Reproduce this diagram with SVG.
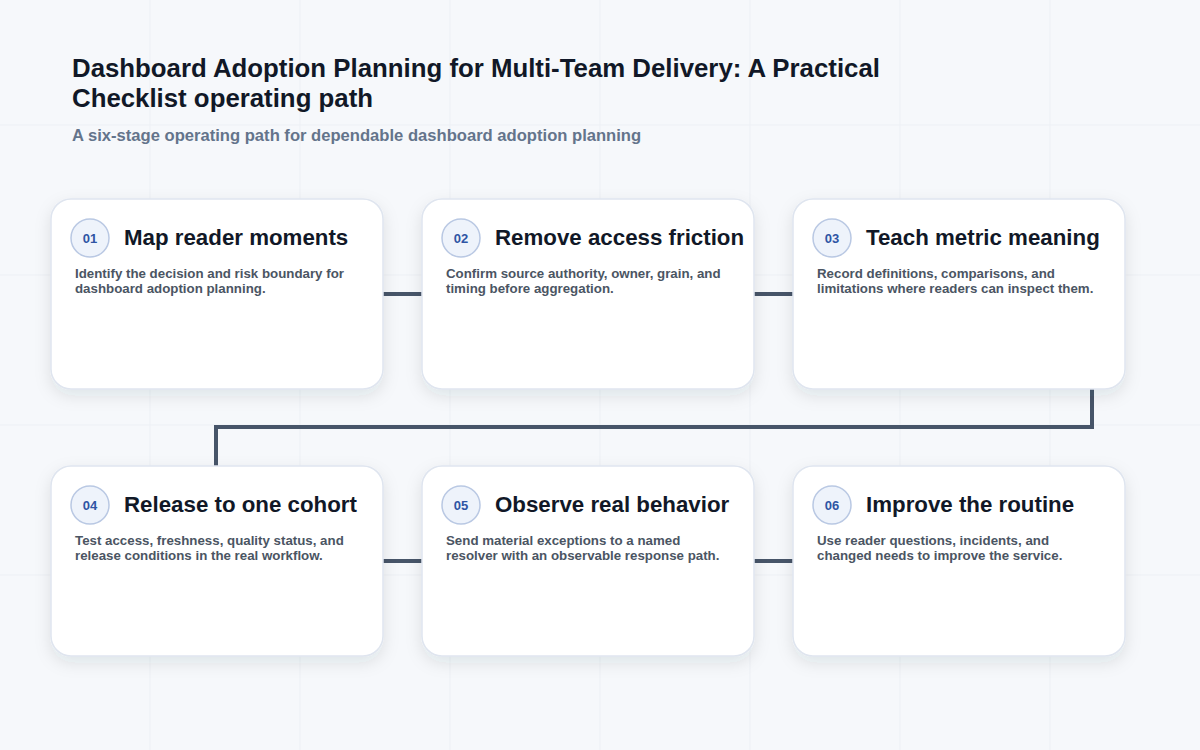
<svg xmlns="http://www.w3.org/2000/svg" width="1200" height="750" viewBox="0 0 1200 750">
<style>
.t{font-family:"Liberation Sans",Arial,sans-serif;font-weight:bold}
.card{fill:#fff;stroke:#dfe5ef;stroke-width:1.5}
.num{fill:#eef3fb;stroke:#b9c8e3;stroke-width:1.5}
.nt{font-size:13px;fill:#2f55a4;text-anchor:middle}
.h{font-size:22.3px;fill:#111827}
.d{font-size:13.3px;fill:#4b5563}
.c{fill:none;stroke:#475569;stroke-width:4}
.g{stroke:#edf0f5;stroke-width:1}
</style>
<defs>
<filter id="sh" x="-20%" y="-20%" width="140%" height="150%"><feDropShadow dx="0" dy="6" stdDeviation="8" flood-color="#1e293b" flood-opacity="0.10"/></filter>
</defs>
<rect width="1200" height="750" fill="#f6f8fb"/>
<g class="g">
<line x1="150" y1="0" x2="150" y2="750"/><line x1="300" y1="0" x2="300" y2="750"/><line x1="450" y1="0" x2="450" y2="750"/><line x1="600" y1="0" x2="600" y2="750"/><line x1="750" y1="0" x2="750" y2="750"/><line x1="900" y1="0" x2="900" y2="750"/><line x1="1050" y1="0" x2="1050" y2="750"/>
<line x1="0" y1="125" x2="1200" y2="125"/><line x1="0" y1="275" x2="1200" y2="275"/><line x1="0" y1="425" x2="1200" y2="425"/><line x1="0" y1="575" x2="1200" y2="575"/>
</g>
<text class="t" x="72" y="77" font-size="25.8" fill="#111827">Dashboard Adoption Planning for Multi-Team Delivery: A Practical</text>
<text class="t" x="72" y="107" font-size="25.8" fill="#111827">Checklist operating path</text>
<text class="t" x="72" y="141" font-size="16.6" fill="#64748b">A six-stage operating path for dependable dashboard adoption planning</text>
<g id="connectors">
<line class="c" x1="383" y1="294" x2="422" y2="294"/>
<line class="c" x1="754" y1="294" x2="793" y2="294"/>
<path class="c" d="M1092 389 V427 H216 V466"/>
<line class="c" x1="383" y1="561" x2="422" y2="561"/>
<line class="c" x1="754" y1="561" x2="793" y2="561"/>
</g>
<g id="n1" transform="translate(51,199)"><rect class="card" width="332" height="190" rx="20" filter="url(#sh)"/><circle class="num" cx="39" cy="39" r="19"/><text class="t nt" x="39" y="44">01</text><text class="t h" x="73" y="46">Map reader moments</text><text class="t d" x="24" y="79">Identify the decision and risk boundary for</text><text class="t d" x="24" y="94">dashboard adoption planning.</text></g>
<g id="n2" transform="translate(422,199)"><rect class="card" width="332" height="190" rx="20" filter="url(#sh)"/><circle class="num" cx="39" cy="39" r="19"/><text class="t nt" x="39" y="44">02</text><text class="t h" x="73" y="46">Remove access friction</text><text class="t d" x="24" y="79">Confirm source authority, owner, grain, and</text><text class="t d" x="24" y="94">timing before aggregation.</text></g>
<g id="n3" transform="translate(793,199)"><rect class="card" width="332" height="190" rx="20" filter="url(#sh)"/><circle class="num" cx="39" cy="39" r="19"/><text class="t nt" x="39" y="44">03</text><text class="t h" x="73" y="46">Teach metric meaning</text><text class="t d" x="24" y="79">Record definitions, comparisons, and</text><text class="t d" x="24" y="94">limitations where readers can inspect them.</text></g>
<g id="n4" transform="translate(51,466)"><rect class="card" width="332" height="190" rx="20" filter="url(#sh)"/><circle class="num" cx="39" cy="39" r="19"/><text class="t nt" x="39" y="44">04</text><text class="t h" x="73" y="46">Release to one cohort</text><text class="t d" x="24" y="79">Test access, freshness, quality status, and</text><text class="t d" x="24" y="94">release conditions in the real workflow.</text></g>
<g id="n5" transform="translate(422,466)"><rect class="card" width="332" height="190" rx="20" filter="url(#sh)"/><circle class="num" cx="39" cy="39" r="19"/><text class="t nt" x="39" y="44">05</text><text class="t h" x="73" y="46">Observe real behavior</text><text class="t d" x="24" y="79">Send material exceptions to a named</text><text class="t d" x="24" y="94">resolver with an observable response path.</text></g>
<g id="n6" transform="translate(793,466)"><rect class="card" width="332" height="190" rx="20" filter="url(#sh)"/><circle class="num" cx="39" cy="39" r="19"/><text class="t nt" x="39" y="44">06</text><text class="t h" x="73" y="46">Improve the routine</text><text class="t d" x="24" y="79">Use reader questions, incidents, and</text><text class="t d" x="24" y="94">changed needs to improve the service.</text></g>
</svg>
